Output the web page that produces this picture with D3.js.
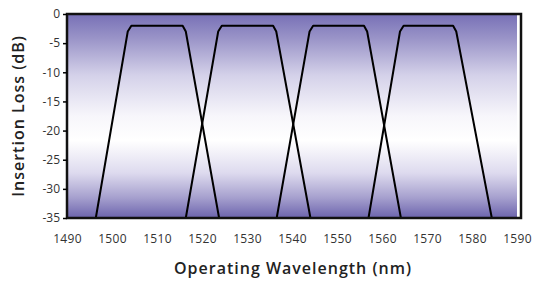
<!DOCTYPE html>
<html><head><meta charset="utf-8">
<script src="https://cdn.jsdelivr.net/npm/d3@7"></script>
<style>body{margin:0;background:#fff}svg{display:block}</style>
</head><body>
<svg id="c" width="538" height="284"></svg>
<script>
const xTicks = [1490,1500,1510,1520,1530,1540,1550,1560,1570,1580,1590];
const yTicks = [0,-5,-10,-15,-20,-25,-30,-35];
const channels = ["Ch1","Ch2","Ch3","Ch4"];
const ch1 = [[1496.4,-35],[1503.5,-3.0],[1504.3,-2],[1515.7,-2],[1516.4,-3.0],[1523.8,-35]];
const ch2 = [[1516.4,-35],[1523.6,-3.0],[1524.4,-2],[1535.8,-2],[1536.5,-3.0],[1544.1,-35]];
const ch3 = [[1536.6,-35],[1543.9,-3.0],[1544.7,-2],[1556.0,-2],[1556.7,-3.0],[1564.2,-35]];
const ch4 = [[1557.0,-35],[1564.0,-3.0],[1564.8,-2],[1575.8,-2],[1576.5,-3.0],[1584.4,-35]];
const series = [ch1,ch2,ch3,ch4];

const svg = d3.select("#c");
const m = {l:67, t:14, r:21, b:66};
const W = 538, H = 284;
const x = d3.scaleLinear().domain([1490,1590]).range([m.l, W-m.r]);
const y = d3.scaleLinear().domain([0,-35]).range([m.t, H-m.b]);

const defs = svg.append("defs");
const g = defs.append("linearGradient").attr("id","bg").attr("x1",0).attr("y1",0).attr("x2",0).attr("y2",1);
[[0,"#7770b6"],[0.12,"#9a94c8"],[0.3,"#d4d1e9"],[0.5,"#f7f6fb"],[0.62,"#ffffff"],[0.78,"#dddaee"],[0.9,"#a6a0ce"],[1,"#6c64ad"]]
  .forEach(([o,c])=>g.append("stop").attr("offset",o).attr("stop-color",c));

svg.append("rect").attr("x",x(1490)).attr("y",y(0)).attr("width",x(1590)-x(1490)).attr("height",y(-35)-y(0)).attr("fill","url(#bg)");

const line = d3.line().x(d=>x(d[0])).y(d=>y(d[1]));
svg.selectAll("path.ch").data(series).join("path").attr("class","ch")
  .attr("d",line).attr("fill","none").attr("stroke","#000").attr("stroke-width",2).attr("stroke-linejoin","round");

// frame
svg.append("rect").attr("x",x(1490)).attr("y",y(0)).attr("width",x(1590)-x(1490)+4).attr("height",y(-35)-y(0))
  .attr("fill","none").attr("stroke","#111").attr("stroke-width",2.5);

const font = "'Open Sans', sans-serif";
const ya = svg.append("g").attr("transform",`translate(${m.l},0)`)
  .call(d3.axisLeft(y).tickValues(yTicks).tickSize(4).tickPadding(3).tickFormat(d=>d===0?"0":("-"+Math.abs(d))));
ya.select(".domain").remove();
ya.selectAll("text").attr("font-family",font).attr("font-size",12).attr("fill","#333");
ya.selectAll("line").attr("stroke","#000").attr("stroke-width",1.5);

const xa = svg.append("g").attr("transform",`translate(0,${y(-35)})`)
  .call(d3.axisBottom(x).tickValues(xTicks).tickSize(0).tickPadding(16).tickFormat(d3.format("d")));
xa.select(".domain").remove();
xa.selectAll("text").attr("font-family",font).attr("font-size",12).attr("fill","#333").attr("letter-spacing",0.3);

svg.append("text").attr("x",293).attr("y",274).attr("text-anchor","middle")
  .attr("font-family",font).attr("font-size",16).attr("font-weight",600).attr("fill","#222").attr("letter-spacing",1)
  .text("Operating Wavelength (nm)");
svg.append("text").attr("transform",`translate(24,${(y(0)+y(-35))/2}) rotate(-90)`).attr("text-anchor","middle")
  .attr("font-family",font).attr("font-size",16).attr("font-weight",600).attr("fill","#222").attr("letter-spacing",1)
  .text("Insertion Loss (dB)");
</script>
</body></html>
